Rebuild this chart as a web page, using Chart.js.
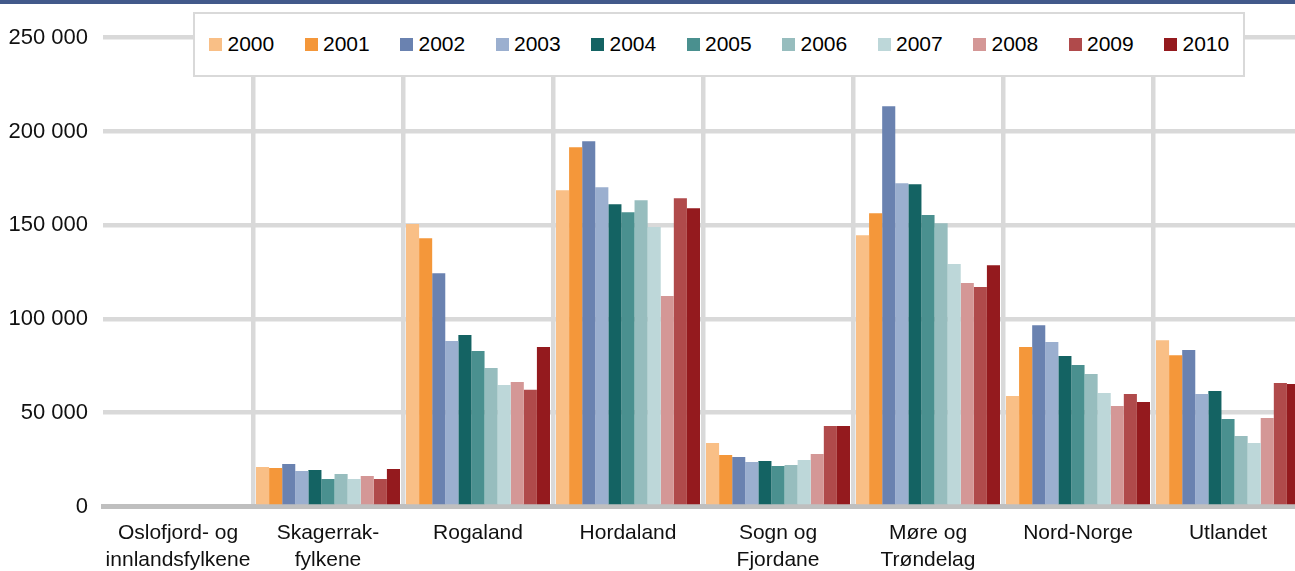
<!DOCTYPE html>
<html>
<head>
<meta charset="utf-8">
<script src="https://cdn.jsdelivr.net/npm/chart.js@4/dist/chart.umd.min.js"></script>
<style>
  html, body { margin: 0; padding: 0; background: #fff; overflow: hidden; width: 1295px; height: 571px; }
  #wrap { position: relative; width: 1295px; height: 571px; overflow: hidden; }
  #topline { position: absolute; left: 0; top: 0; width: 1295px; height: 4px; background: #42598A; z-index: 3; }
  #chart { position: absolute; left: 0; top: 0; }
  #legend { position: absolute; left: 193px; top: 12px; width: 1034px; height: 42px; padding: 19px 0 0 14px;
            border: 2px solid #D9D9D9; background: #fff; z-index: 2; display: flex; align-items: flex-start;
            font-family: "Liberation Sans", Arial, sans-serif; font-size: 21px; line-height: 22px; color: #000; }
  .item { width: 95.5px; flex: 0 0 95.5px; display: flex; align-items: center; white-space: nowrap; }
  .sw { width: 13px; height: 13px; margin-right: 5.5px; flex: 0 0 13px; }
</style>
</head>
<body>
<div id="wrap">
  <div id="topline"></div>
  <canvas id="chart" width="1310" height="571"></canvas>
  <div id="legend"></div>
</div>
<script>
// ---- Data ----
const categories = [
  ["Oslofjord- og", "innlandsfylkene"],
  ["Skagerrak-", "fylkene"],
  "Rogaland",
  "Hordaland",
  ["Sogn og", "Fjordane"],
  ["Møre og", "Trøndelag"],
  "Nord-Norge",
  "Utlandet"
];
const years = ["2000", "2001", "2002", "2003", "2004", "2005", "2006", "2007", "2008", "2009", "2010"];
const yTickValues = [0, 50000, 100000, 150000, 200000, 250000];

const v2000 = [0, 21100, 150600, 168700, 33800, 144700, 58900, 88700];
const v2001 = [0, 20500, 143100, 191600, 27400, 156400, 85000, 80700];
const v2002 = [0, 22700, 124400, 194800, 26400, 213500, 96700, 83400];
const v2003 = [0, 18900, 88200, 170300, 23700, 172400, 87700, 60000];
const v2004 = [0, 19500, 91400, 161200, 24300, 171900, 80200, 61600];
const v2005 = [0, 14700, 82900, 156900, 21600, 155400, 75400, 46600];
const v2006 = [0, 17300, 73800, 163300, 22100, 151100, 70600, 37600];
const v2007 = [0, 14700, 64800, 149000, 24800, 129300, 60500, 33800];
const v2008 = [0, 16300, 66400, 112200, 28000, 119200, 53600, 47200];
const v2009 = [0, 14700, 62200, 164400, 42900, 117100, 60000, 65800];
const v2010 = [0, 20000, 85000, 159100, 42900, 128700, 55700, 65300];

const seriesValues = [v2000, v2001, v2002, v2003, v2004, v2005, v2006, v2007, v2008, v2009, v2010];
const colors = ["#F9BF86", "#F4973A", "#6A82B0", "#9BAFCF", "#146363", "#4A908F",
                "#97BDBE", "#BDD7D9", "#D49796", "#B04A4B", "#941A1E"];

const FONT = "'Liberation Sans', Arial, sans-serif";
const fmt = v => String(v).replace(/\B(?=(\d{3})+(?!\d))/g, " ");

const datasets = years.map((y, i) => ({
  label: y,
  data: seriesValues[i],
  backgroundColor: colors[i],
  borderWidth: 0,
  barPercentage: 1.0,
  categoryPercentage: 0.96
}));

const chart = new Chart(document.getElementById("chart"), {
  type: "bar",
  data: { labels: categories, datasets },
  options: {
    responsive: false,
    animation: false,
    devicePixelRatio: 1,
    layout: { padding: { top: 37.7, right: 7, bottom: 0, left: 0 } },
    plugins: { legend: { display: false }, tooltip: { enabled: false } },
    scales: {
      x: {
        grid: {
          offset: true,
          drawTicks: false,
          lineWidth: 4.5,
          color: ctx => (ctx.index === 0 ? "rgba(0,0,0,0)" : "#D9D9D9")
        },
        border: { display: true, color: "#BFBFBF", width: 5 },
        ticks: {
          autoSkip: false, maxRotation: 0, minRotation: 0,
          padding: 14, color: "#111",
          font: { family: FONT, size: 21, lineHeight: 1.25 }
        },
        afterFit: s => { s.height = 64.5; }
      },
      y: {
        min: 0, max: 250000,
        afterBuildTicks: s => { s.ticks = yTickValues.map(v => ({ value: v })); },
        grid: {
          drawTicks: false,
          lineWidth: 4.5,
          color: ctx => (ctx.tick && ctx.tick.value === 0 ? "rgba(0,0,0,0)" : "#D9D9D9")
        },
        border: { display: false },
        ticks: {
          padding: 15, color: "#111",
          font: { family: FONT, size: 22 },
          callback: v => fmt(v)
        },
        afterFit: s => { s.width = 103; }
      }
    }
  }
});

// HTML legend built from the chart's datasets
const legend = document.getElementById("legend");
chart.data.datasets.forEach(ds => {
  const it = document.createElement("div");
  it.className = "item";
  const sw = document.createElement("span");
  sw.className = "sw";
  sw.style.background = ds.backgroundColor;
  const tx = document.createElement("span");
  tx.textContent = ds.label;
  it.appendChild(sw);
  it.appendChild(tx);
  legend.appendChild(it);
});
</script>
</body>
</html>
